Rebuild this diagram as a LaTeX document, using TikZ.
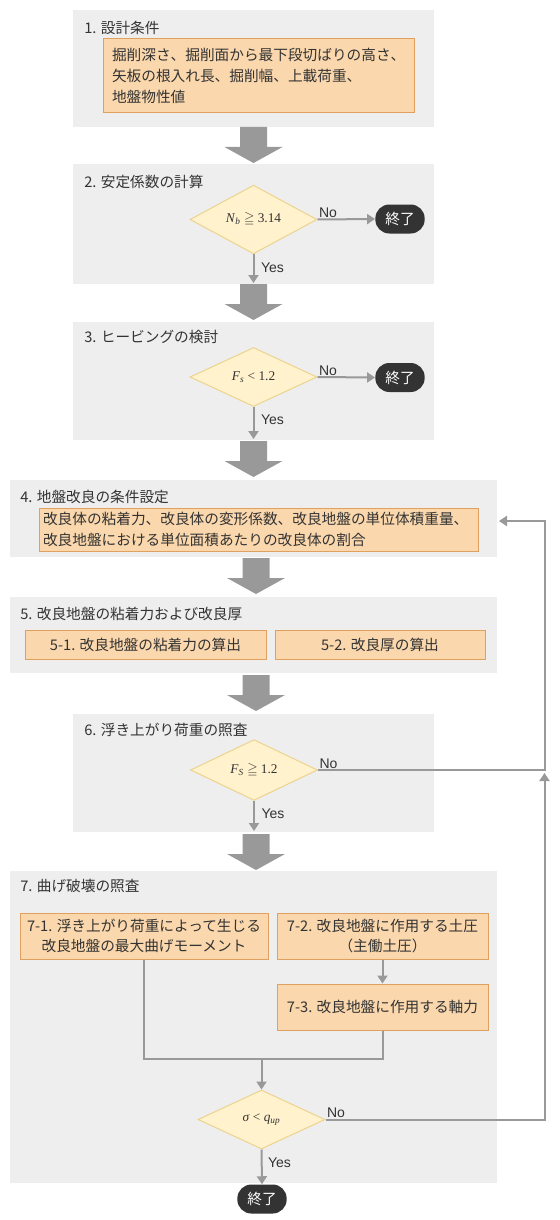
\documentclass[tikz,border=0pt]{standalone}
\usepackage{amsmath,amssymb}
\usepackage{fontspec}
\setmainfont{Noto Sans CJK JP}
\newfontfamily\lsans{Liberation Sans}
\newfontfamily\tserif{Liberation Serif}
\usetikzlibrary{shapes.geometric,arrows.meta,calc}
\definecolor{panelgray}{HTML}{EEEEEE}
\definecolor{boxfill}{HTML}{FAD7AC}
\definecolor{boxline}{HTML}{E0A060}
\definecolor{dfill}{HTML}{FFF2CC}
\definecolor{dline}{HTML}{EDD38E}
\definecolor{conncol}{HTML}{999999}
\definecolor{txt}{HTML}{333333}
\definecolor{endfill}{HTML}{333333}
\newcommand\bigarr[2]{\fill[conncol] (#1-13.5,#2) -- (#1+13.5,#2) -- (#1+13.5,#2+20) -- (#1+29,#2+20) -- (#1,#2+36) -- (#1-29,#2+20) -- (#1-13.5,#2+20) -- cycle;}
\newcommand\mvar[1]{\textit{#1}}
\newcommand\msub[1]{\textsubscript{\textit{#1}}}
\begin{document}
\begin{tikzpicture}[x=0.75pt,y=-0.75pt,
  every node/.style={text=txt, font=\fontsize{11}{15.5}\selectfont},
  panel/.style={fill=panelgray},
  title/.style={anchor=west, inner sep=0pt},
  obox/.style={draw=boxline, fill=boxfill, line width=0.75pt, inner sep=0pt, align=center},
  dec/.style={diamond, draw=dline, fill=dfill, line width=0.75pt, inner sep=0pt, minimum width=95.25pt, minimum height=44.25pt, font=\tserif\fontsize{10}{11}\selectfont},
  endp/.style={fill=endfill, text=white, rounded corners=10.5pt, minimum width=37pt, minimum height=21.75pt, inner sep=0pt},
  conn/.style={draw=conncol, line width=1.5pt},
  arr/.style={conn, -{Triangle[length=6pt,width=7.5pt]}},
  lbl/.style={inner sep=1pt, font=\lsans\fontsize{10.5}{12}\selectfont},
]
\useasboundingbox (0,0) rectangle (560,1220);

% panels
\fill[panel] (73,10) rectangle (434,127);
\fill[panel] (73,164) rectangle (434,284);
\fill[panel] (73,322) rectangle (434,440);
\fill[panel] (10,480) rectangle (497,557);
\fill[panel] (10,597) rectangle (497,673);
\fill[panel] (73,714) rectangle (434,832);
\fill[panel] (10,871) rectangle (497,1183);

% big arrows
\bigarr{253.5}{127}
\bigarr{253.5}{284}
\bigarr{253.5}{441}
\bigarr{256}{558}
\bigarr{256}{675}
\bigarr{256}{834}

% 1
\node[title] (t1) at (84,27.5) {1. 設計条件};
\node[obox, align=left, text width=219.75pt, inner xsep=6.75pt, minimum height=55.5pt] (b1) at (258.5,76)
  {掘削深さ、掘削面から最下段切ばりの高さ、\\矢板の根入れ長、掘削幅、上載荷重、\\地盤物性値};

% 2
\node[title] (t2) at (84,182) {2. 安定係数の計算};
\node[dec] (d2) at (253.5,219.5) {\mvar{N}\msub{b} $\geqq$ 3.14};
\node[endp] (e2) at (400,219) {終了};
\coordinate (p2) at (253.5,283);
\draw[arr] (d2.east) -- (e2.west);
\draw[arr] (d2.south) -- (p2);
\node[lbl, anchor=south west] at (d2.east) {No};
\node[lbl, anchor=west] at ($(d2.south)+(6,13)$) {Yes};

% 3
\node[title] (t3) at (84,337) {3. ヒービングの検討};
\node[dec] (d3) at (253.5,377) {\mvar{F}\msub{s} < 1.2};
\node[endp] (e3) at (400,377.5) {終了};
\coordinate (p3) at (253.5,439);
\draw[arr] (d3.east) -- (e3.west);
\draw[arr] (d3.south) -- (p3);
\node[lbl, anchor=south west] at (d3.east) {No};
\node[lbl, anchor=west] at ($(d3.south)+(6,13)$) {Yes};

% 4
\node[title] (t4) at (20,497) {4. 地盤改良の条件設定};
\node[obox, align=left, text width=323.25pt, inner xsep=3pt, minimum height=32.25pt, font=\fontsize{11}{16}\selectfont] (b4) at (258.5,529.5)
  {改良体の粘着力、改良体の変形係数、改良地盤の単位体積重量、\\改良地盤における単位面積あたりの改良体の割合};

% 5
\node[title] (t5) at (20,614) {5. 改良地盤の粘着力および改良厚};
\node[obox, minimum width=180.75pt, minimum height=21.75pt] (b51) at (145.5,644.5) {5-1. 改良地盤の粘着力の算出};
\node[obox, minimum width=157.5pt, minimum height=21.75pt] (b52) at (380,644.5) {5-2. 改良厚の算出};

% 6
\node[title] (t6) at (84,730) {6. 浮き上がり荷重の照査};
\node[dec] (d6) at (254,770) {\mvar{F}\msub{S} $\geqq$ 1.2};
\coordinate (p6) at (254,831);
\draw[arr] (d6.south) -- (p6);
\node[lbl, anchor=south west] at (d6.east) {No};
\node[lbl, anchor=west] at ($(d6.south)+(6,13)$) {Yes};

% 7
\node[title] (t7) at (20,886) {7. 曲げ破壊の照査};
\node[obox, minimum width=186pt, minimum height=34.5pt] (b71) at (144,936) {7-1. 浮き上がり荷重によって生じる\\改良地盤の最大曲げモーメント};
\node[obox, minimum width=158.25pt, minimum height=34.5pt] (b72) at (382.5,936) {7-2. 改良地盤に作用する土圧\\（主働土圧）};
\node[obox, minimum width=158.25pt, minimum height=34.5pt] (b73) at (382.5,1007) {7-3. 改良地盤に作用する軸力};
\node[dec] (d7) at (261.5,1119.5) {\mvar{σ} < \mvar{q}\msub{up}};
\node[endp] (e7) at (262,1199) {終了};
\coordinate (j) at (261.5,1059);
\draw[arr] (b72.south) -- (b73.north);
\draw[conn] (b71.south) |- (j);
\draw[conn] (b73.south) |- (j);
\draw[arr] (j) -- (d7.north);
\draw[arr] (d7.south) -- (e7.north);
\node[lbl, anchor=south west] at (d7.east) {No};
\node[lbl, anchor=west] at ($(d7.south)+(5,13)$) {Yes};

% feedback
\coordinate (fr6) at (544.5,770);
\coordinate (fr4) at (544.5,521);
\coordinate (fbend) at (499,521);
\coordinate (fr7) at (544.5,1119.5);
\coordinate (fup) at (544.5,773);
\draw[arr] (d6.east) -- (fr6) -- (fr4) -- (fbend);
\draw[arr] (d7.east) -- (fr7) -- (fup);
\end{tikzpicture}
\end{document}
